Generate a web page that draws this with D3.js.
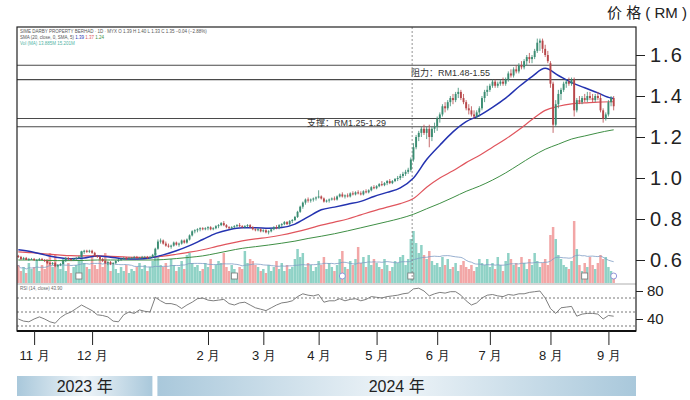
<!DOCTYPE html>
<html>
<head>
<meta charset="utf-8">
<script src="https://cdn.jsdelivr.net/npm/d3@7"></script>
<style>
  html, body { margin: 0; padding: 0; background: #fff; }
  svg { display: block; font-family: 'Liberation Sans', 'Noto Sans CJK SC', sans-serif; }
</style>
</head>
<body>
<div id="chart"></div>
<script>
// ── DATA ─────────────────────────────────────────────────────
// trading window (weekdays only)
const firstDay = '2023-10-24'
const lastDay = '2024-09-04'

const monthTicks = [
  { month: '2023-11', label: '11 月' },
  { month: '2023-12', label: '12 月' },
  { month: '2024-02', label: '2 月' },
  { month: '2024-03', label: '3 月' },
  { month: '2024-04', label: '4 月' },
  { month: '2024-05', label: '5 月' },
  { month: '2024-06', label: '6 月' },
  { month: '2024-07', label: '7 月' },
  { month: '2024-08', label: '8 月' },
  { month: '2024-09', label: '9 月' }
]
const yearLabels = ['2023 年', '2024 年']
const priceTicks = [0.6, 0.8, 1.0, 1.2, 1.4, 1.6]
const rsiTicks = [80, 40]
const rsiGuides = [70, 50, 30]
const resistance = [1.48, 1.55]
const support = [1.25, 1.29]

// daily candles [open, high, low, close] in RM
const candles = [
  // Oct 2023
  [0.620,0.625,0.610,0.615],[0.615,0.620,0.600,0.605],[0.605,0.615,0.600,0.610],[0.610,0.615,0.600,0.600],[0.600,0.610,0.595,0.605],[0.605,0.610,0.600,0.605],
  // Nov
  [0.605,0.610,0.595,0.600],[0.600,0.605,0.595,0.600],[0.600,0.610,0.595,0.605],[0.605,0.610,0.600,0.600],[0.600,0.605,0.590,0.595],[0.595,0.600,0.580,0.585],
  [0.585,0.590,0.575,0.580],[0.580,0.590,0.575,0.585],[0.585,0.590,0.565,0.570],[0.570,0.580,0.565,0.575],[0.575,0.585,0.570,0.580],[0.580,0.600,0.580,0.595],
  [0.595,0.615,0.590,0.610],[0.610,0.615,0.600,0.605],[0.605,0.610,0.595,0.600],[0.600,0.610,0.595,0.605],[0.605,0.615,0.600,0.610],[0.610,0.620,0.605,0.615],
  [0.615,0.645,0.615,0.640],[0.640,0.650,0.630,0.645],[0.645,0.650,0.635,0.640],[0.640,0.650,0.635,0.645],
  // Dec
  [0.645,0.650,0.630,0.635],[0.635,0.640,0.615,0.620],[0.620,0.625,0.610,0.615],[0.615,0.620,0.600,0.605],[0.605,0.610,0.590,0.595],[0.595,0.600,0.580,0.585],
  [0.585,0.595,0.575,0.590],[0.590,0.595,0.575,0.580],[0.580,0.590,0.575,0.585],[0.585,0.600,0.580,0.595],[0.595,0.605,0.590,0.600],[0.600,0.610,0.595,0.605],
  [0.605,0.615,0.600,0.610],[0.610,0.615,0.600,0.605],[0.605,0.615,0.600,0.610],[0.610,0.615,0.605,0.610],[0.610,0.620,0.605,0.615],[0.615,0.620,0.605,0.610],
  [0.610,0.615,0.605,0.610],[0.610,0.620,0.605,0.615],[0.615,0.620,0.610,0.615],
  // Jan 2024
  [0.615,0.620,0.605,0.610],[0.610,0.620,0.605,0.615],[0.615,0.630,0.610,0.625],[0.625,0.660,0.620,0.655],[0.655,0.700,0.650,0.690],[0.690,0.705,0.680,0.695],
  [0.695,0.700,0.675,0.680],[0.680,0.690,0.665,0.670],[0.670,0.680,0.660,0.665],[0.665,0.675,0.655,0.670],[0.670,0.690,0.665,0.685],[0.685,0.690,0.670,0.675],
  [0.675,0.685,0.665,0.680],[0.680,0.700,0.675,0.695],[0.695,0.700,0.680,0.685],[0.685,0.705,0.680,0.700],[0.700,0.725,0.695,0.720],[0.720,0.745,0.715,0.740],
  [0.740,0.750,0.730,0.745],[0.745,0.755,0.735,0.750],[0.750,0.760,0.740,0.755],[0.755,0.760,0.745,0.750],[0.750,0.760,0.745,0.755],
  // Feb
  [0.755,0.765,0.745,0.760],[0.760,0.765,0.745,0.750],[0.750,0.760,0.745,0.755],[0.755,0.770,0.750,0.765],[0.765,0.775,0.755,0.770],[0.770,0.785,0.765,0.780],
  [0.780,0.790,0.765,0.770],[0.770,0.775,0.755,0.760],[0.760,0.765,0.750,0.755],[0.755,0.765,0.750,0.760],[0.760,0.770,0.755,0.765],[0.765,0.775,0.760,0.770],
  [0.770,0.780,0.760,0.765],[0.765,0.770,0.755,0.760],[0.760,0.770,0.755,0.765],[0.765,0.775,0.760,0.770],[0.770,0.775,0.755,0.760],[0.760,0.765,0.745,0.750],
  [0.750,0.755,0.740,0.745],[0.745,0.755,0.740,0.750],[0.750,0.755,0.735,0.740],
  // Mar
  [0.740,0.750,0.735,0.745],[0.745,0.750,0.730,0.735],[0.735,0.745,0.725,0.740],[0.740,0.755,0.735,0.750],[0.750,0.765,0.745,0.760],[0.760,0.770,0.750,0.755],
  [0.755,0.775,0.750,0.770],[0.770,0.780,0.760,0.775],[0.775,0.790,0.770,0.785],[0.785,0.790,0.770,0.775],[0.775,0.795,0.770,0.790],[0.790,0.800,0.780,0.795],
  [0.795,0.815,0.790,0.810],[0.810,0.840,0.805,0.835],[0.835,0.865,0.830,0.860],[0.860,0.885,0.850,0.880],[0.880,0.900,0.870,0.895],[0.895,0.905,0.880,0.890],
  [0.890,0.900,0.880,0.895],[0.895,0.905,0.885,0.900],[0.900,0.910,0.890,0.905],
  // Apr
  [0.905,0.940,0.900,0.910],[0.910,0.915,0.895,0.900],[0.900,0.905,0.880,0.885],[0.885,0.895,0.880,0.890],[0.890,0.900,0.880,0.895],[0.895,0.905,0.890,0.900],
  [0.900,0.910,0.890,0.895],[0.895,0.915,0.890,0.910],[0.910,0.925,0.905,0.920],[0.920,0.930,0.905,0.910],[0.910,0.920,0.900,0.915],[0.915,0.925,0.905,0.910],
  [0.910,0.930,0.905,0.925],[0.925,0.935,0.915,0.920],[0.920,0.935,0.915,0.930],[0.930,0.940,0.920,0.925],[0.925,0.935,0.915,0.920],[0.920,0.940,0.915,0.935],
  [0.935,0.945,0.925,0.930],[0.930,0.945,0.925,0.940],[0.940,0.960,0.935,0.955],[0.955,0.965,0.945,0.950],
  // May
  [0.950,0.965,0.945,0.960],[0.960,0.975,0.955,0.970],[0.970,0.985,0.960,0.965],[0.965,0.980,0.960,0.975],[0.975,0.990,0.965,0.985],[0.985,0.995,0.970,0.975],
  [0.975,0.990,0.970,0.985],[0.985,1.000,0.980,0.995],[0.995,1.010,0.985,1.000],[1.000,1.020,0.990,1.010],[1.010,1.030,1.000,1.020],[1.020,1.040,1.010,1.030],
  [1.030,1.050,1.020,1.040],[1.040,1.100,1.030,1.090],[1.090,1.170,1.080,1.150],[1.150,1.210,1.140,1.200],[1.200,1.230,1.180,1.220],[1.220,1.250,1.200,1.240],
  [1.240,1.260,1.210,1.220],[1.220,1.250,1.190,1.240],[1.240,1.260,1.150,1.200],[1.200,1.250,1.180,1.240],[1.240,1.270,1.220,1.250],
  // Jun
  [1.250,1.300,1.230,1.290],[1.290,1.320,1.270,1.310],[1.310,1.360,1.300,1.350],[1.350,1.370,1.320,1.340],[1.340,1.380,1.330,1.370],[1.370,1.400,1.350,1.390],
  [1.390,1.410,1.360,1.380],[1.380,1.420,1.370,1.410],[1.410,1.440,1.390,1.420],[1.420,1.430,1.380,1.390],[1.390,1.410,1.360,1.370],[1.370,1.380,1.330,1.340],
  [1.340,1.360,1.310,1.330],[1.330,1.350,1.300,1.310],[1.310,1.330,1.290,1.300],[1.300,1.330,1.290,1.320],[1.320,1.350,1.300,1.340],[1.340,1.400,1.330,1.390],
  [1.390,1.430,1.370,1.420],[1.420,1.450,1.400,1.430],
  // Jul
  [1.430,1.460,1.420,1.450],[1.450,1.480,1.440,1.470],[1.470,1.480,1.440,1.450],[1.450,1.470,1.440,1.460],[1.460,1.480,1.450,1.470],[1.470,1.490,1.450,1.460],
  [1.460,1.490,1.450,1.480],[1.480,1.520,1.470,1.510],[1.510,1.530,1.490,1.500],[1.500,1.540,1.490,1.530],[1.530,1.550,1.510,1.520],[1.520,1.560,1.510,1.550],
  [1.550,1.570,1.530,1.540],[1.540,1.580,1.530,1.570],[1.570,1.600,1.550,1.590],[1.590,1.610,1.560,1.580],[1.580,1.600,1.560,1.590],[1.590,1.630,1.580,1.620],
  [1.620,1.680,1.610,1.660],[1.660,1.680,1.620,1.670],[1.670,1.680,1.610,1.630],[1.630,1.650,1.590,1.600],[1.600,1.620,1.560,1.570],
  // Aug
  [1.560,1.570,1.440,1.460],[1.460,1.470,1.220,1.260],[1.260,1.380,1.250,1.360],[1.360,1.430,1.340,1.410],[1.410,1.440,1.380,1.430],[1.430,1.470,1.420,1.460],
  [1.460,1.480,1.440,1.470],[1.470,1.490,1.450,1.460],[1.460,1.490,1.450,1.480],[1.480,1.490,1.300,1.330],[1.330,1.390,1.320,1.380],[1.380,1.400,1.360,1.370],
  [1.370,1.400,1.360,1.390],[1.390,1.410,1.370,1.380],[1.380,1.420,1.370,1.400],[1.400,1.420,1.380,1.390],[1.390,1.410,1.370,1.380],[1.380,1.410,1.370,1.400],
  [1.400,1.420,1.380,1.390],[1.390,1.410,1.320,1.330],[1.330,1.340,1.270,1.290],[1.290,1.320,1.280,1.310],
  // Sep
  [1.310,1.380,1.300,1.370],[1.370,1.400,1.350,1.390],[1.390,1.400,1.330,1.350]
]

// daily volume, million shares
const volumes = [
  9,6,8,5,10,7,
  8,11,6,9,7,12, 15,8,14,9,7,12, 6,10,5,8,9,11, 16,10,8,7,
  13,9,7,12,8,15, 10,6,9,7,5,8, 6,9,5,7,6,8, 10,7,9,
  6,8,11,15,13,9, 8,10,7,12,9,6, 8,11,7,14,15,10, 8,9,6,7,10,
  8,12,7,9,11,10, 15,8,6,9,7,5, 8,7,16,10,12,11, 9,8,6,
  7,5,9,6,8,11, 7,10,6,9,7,8, 12,17,13,15,8,10, 9,6,8,
  11,9,13,7,10,8, 6,9,12,16,8,7, 11,9,12,18,10,13, 8,14,9,12,
  10,8,7,12,9,6, 8,11,10,13,14,9, 12,22,26,20,15,19, 14,12,16,11,9,
  10,8,13,9,12,7, 8,10,6,9,11,8, 7,9,6,8,12,10, 9,12,
  8,10,7,13,9,6, 11,15,12,9,10,8, 13,10,7,12,9,15, 11,8,10,12,9,
  24,28,22,14,12,9, 8,7,11,31,17,9, 6,10,8,13,9,7, 10,14,12,13,
  8,6,5
]

// moving averages read every 5 sessions (plus the last one)
const maStep = 5
const maShort = [0.650,0.640,0.625,0.612,0.606,0.610,0.620,0.614,0.606,0.605,0.610,0.625,0.645,0.670,0.700,0.730,0.748,0.757,0.757,0.755,
  0.758,0.775,0.810,0.845,0.858,0.872,0.886,0.910,0.930,0.952,1.000,1.090,1.160,1.225,1.275,1.305,1.345,1.390,1.445,1.495,1.535,1.500,1.465,1.440,1.415,1.390,1.388]
const maMid = [0.640,0.636,0.630,0.625,0.621,0.620,0.620,0.618,0.615,0.613,0.613,0.619,0.628,0.638,0.650,0.665,0.680,0.693,0.703,0.711,
  0.722,0.736,0.752,0.770,0.785,0.800,0.820,0.840,0.858,0.875,0.900,0.955,1.000,1.035,1.075,1.110,1.150,1.190,1.235,1.285,1.330,1.350,1.362,1.366,1.370,1.372,1.372]
const maLong = [0.600,0.600,0.598,0.597,0.597,0.598,0.600,0.600,0.600,0.600,0.600,0.602,0.607,0.613,0.620,0.632,0.645,0.657,0.665,0.673,
  0.682,0.692,0.705,0.716,0.728,0.742,0.757,0.772,0.787,0.803,0.823,0.850,0.876,0.905,0.935,0.960,0.990,1.025,1.065,1.105,1.140,1.165,1.190,1.205,1.220,1.233,1.235]

// RSI(14), read every 2 sessions
const rsiStep = 2
const rsi = [40,37,36,40,43,40,36,34,42,47,50,55,60,56,52,46,45,43,37,36,46,50,48,53,51,50,71,66,62,62,
  60,55,60,64,69,70,67,66,67,68,62,60,63,64,60,56,54,52,56,60,63,64,66,72,76,74,73,75,64,66,
  66,69,66,68,69,66,68,72,71,70,72,73,74,76,77,83,84,80,73,76,78,77,79,79,74,66,60,63,70,74,
  75,73,72,75,74,76,76,78,79,80,70,55,48,56,57,58,44,47,48,48,47,40,45,44]

// chart event markers under the volume bars (session index)
const events = [
  { i: 23, kind: 'square' }, { i: 82, kind: 'square' }, { i: 123, kind: 'circle' },
  { i: 149, kind: 'square' }, { i: 215, kind: 'square' }, { i: 226, kind: 'circle' }
]

// ── SETUP ────────────────────────────────────────────────────
const W = 690, H = 400
const box = { left: 17, right: 636, top: 27, split: 284, bottom: 331 }
const upCol = '#3b8d73', downCol = '#b8474a'
const upVol = '#8fd2c6', downVol = '#f2a6a6'

const days = d3.utcDay.range(new Date(firstDay), d3.utcDay.offset(new Date(lastDay), 1))
  .filter(d => d.getUTCDay() !== 0 && d.getUTCDay() !== 6)
const fmtMonth = d3.utcFormat('%Y-%m')

const bars = candles.map((c, i) => ({
  i, o: c[0], h: c[1], l: c[2], c: c[3], v: volumes[i], up: c[3] >= c[0]
}))

const x = d3.scaleLinear().domain([-0.5, bars.length - 0.5]).range([17, 615])
const y = d3.scaleLinear().domain([0.6, 1.6]).range([260, 55])
const yVol = d3.scaleLinear().domain([0, 30]).range([283, 223])
const yRsi = d3.scaleLinear().domain([40, 80]).range([319, 291])

const svg = d3.select('#chart').append('svg')
  .attr('width', W).attr('height', H)
  .attr('viewBox', `0 0 ${W} ${H}`)

const defs = svg.append('defs')
const grad = defs.append('linearGradient').attr('id', 'yearGrad')
grad.append('stop').attr('offset', '0%').attr('stop-color', '#a9c8db')
grad.append('stop').attr('offset', '50%').attr('stop-color', '#eef4f8')
grad.append('stop').attr('offset', '100%').attr('stop-color', '#a9c8db')

// ── VOLUME ───────────────────────────────────────────────────
svg.append('g').selectAll('rect')
  .data(bars)
  .join('rect')
  .attr('x', d => x(d.i) - 1.25)
  .attr('width', 2.5)
  .attr('y', d => yVol(d.v))
  .attr('height', d => yVol(0) - yVol(d.v))
  .attr('fill', d => d.up ? upVol : downVol)

const volMa = bars.map((d, i) => ({ i, v: d3.mean(volumes.slice(Math.max(0, i - 19), i + 1)) }))
svg.append('path')
  .datum(volMa)
  .attr('fill', 'none')
  .attr('stroke', '#7d9cc4')
  .attr('stroke-width', 0.8)
  .attr('d', d3.line().x(d => x(d.i)).y(d => yVol(d.v)).curve(d3.curveMonotoneX))

const ev = svg.append('g')
events.forEach(e => {
  if (e.kind === 'square') {
    ev.append('rect').attr('x', x(e.i) - 3).attr('y', 273).attr('width', 6).attr('height', 6)
      .attr('fill', '#fff').attr('stroke', '#777').attr('stroke-width', 0.8)
  } else {
    ev.append('circle').attr('cx', x(e.i)).attr('cy', 276).attr('r', 3)
      .attr('fill', '#fff').attr('stroke', '#7a7fd0').attr('stroke-width', 0.8)
  }
})

// ── SUPPORT / RESISTANCE ─────────────────────────────────────
svg.append('g').selectAll('line')
  .data(resistance.concat(support))
  .join('line')
  .attr('x1', box.left).attr('x2', box.right)
  .attr('y1', d => y(d)).attr('y2', d => y(d))
  .attr('stroke', '#4a4a4a').attr('stroke-width', 1.1)

svg.append('text')
  .attr('x', 411).attr('y', (y(resistance[0]) + y(resistance[1])) / 2 + 3.5)
  .attr('font-size', 9).attr('fill', '#333')
  .text(`阻力：RM${resistance[0].toFixed(2)}-${resistance[1].toFixed(2)}`)
svg.append('text')
  .attr('x', 307).attr('y', (y(support[0]) + y(support[1])) / 2 + 3.5)
  .attr('font-size', 9).attr('fill', '#333')
  .text(`支撑：RM${support[0].toFixed(2)}-${support[1].toFixed(2)}`)

// dashed marker line
svg.append('line')
  .attr('x1', x(149.5)).attr('x2', x(149.5))
  .attr('y1', box.top).attr('y2', 283)
  .attr('stroke', '#777').attr('stroke-width', 0.8).attr('stroke-dasharray', '2,2')

// ── MOVING AVERAGES ──────────────────────────────────────────
const maIndex = k => Math.min(k * maStep, bars.length - 1)
const maLine = d3.line().x((d, k) => x(maIndex(k))).y(d => y(d)).curve(d3.curveMonotoneX)
;[[maLong, '#3f8f45', 1], [maMid, '#e0555d', 1.2], [maShort, '#2433b0', 1.5]].forEach(([arr, col, w]) => {
  svg.append('path').datum(arr)
    .attr('fill', 'none').attr('stroke', col).attr('stroke-width', w)
    .attr('d', maLine)
})

// ── CANDLES ──────────────────────────────────────────────────
const cg = svg.append('g')
cg.selectAll('line')
  .data(bars)
  .join('line')
  .attr('x1', d => x(d.i)).attr('x2', d => x(d.i))
  .attr('y1', d => y(d.h)).attr('y2', d => y(d.l))
  .attr('stroke', d => d.up ? upCol : downCol)
  .attr('stroke-width', 0.8)
cg.selectAll('rect')
  .data(bars)
  .join('rect')
  .attr('x', d => x(d.i) - 0.95)
  .attr('width', 1.9)
  .attr('y', d => y(Math.max(d.o, d.c)))
  .attr('height', d => Math.max(0.8, Math.abs(y(d.o) - y(d.c))))
  .attr('fill', d => d.up ? upCol : downCol)

// ── RSI PANEL ────────────────────────────────────────────────
svg.append('line')
  .attr('x1', box.left).attr('x2', box.right)
  .attr('y1', box.split).attr('y2', box.split)
  .attr('stroke', '#999').attr('stroke-width', 0.8)

svg.append('g').selectAll('line')
  .data(rsiGuides)
  .join('line')
  .attr('x1', box.left).attr('x2', box.right)
  .attr('y1', d => yRsi(d)).attr('y2', d => yRsi(d))
  .attr('stroke', '#555').attr('stroke-width', 0.8).attr('stroke-dasharray', '2,2')

svg.append('path')
  .datum(rsi)
  .attr('fill', 'none')
  .attr('stroke', '#6f6f6f')
  .attr('stroke-width', 0.9)
  .attr('d', d3.line().x((d, k) => x(Math.min(k * rsiStep, bars.length - 1))).y(d => yRsi(d)))

svg.append('text')
  .attr('x', 20).attr('y', 289.5)
  .attr('font-size', 4.5).attr('fill', '#666')
  .text('RSI (14, close)  43.90')

// ── FRAME ────────────────────────────────────────────────────
svg.append('rect')
  .attr('x', box.left).attr('y', box.top)
  .attr('width', box.right - box.left).attr('height', box.bottom - box.top)
  .attr('fill', 'none').attr('stroke', '#222').attr('stroke-width', 1.2)
svg.append('line')
  .attr('x1', box.left).attr('x2', box.right)
  .attr('y1', box.bottom).attr('y2', box.bottom)
  .attr('stroke', '#111').attr('stroke-width', 2)

// legend text in the corner
const legend = svg.append('g').attr('font-size', 4.5)
legend.append('text').attr('x', 20).attr('y', 33).attr('fill', '#555')
  .text('SIME DARBY PROPERTY BERHAD · 1D · MYX   O 1.39  H 1.40  L 1.33  C 1.35  −0.04 (−2.88%)')
const l2 = legend.append('text').attr('x', 20).attr('y', 39).attr('fill', '#555')
l2.append('tspan').text('SMA (20, close, 0, SMA, 5)  ')
l2.append('tspan').attr('fill', '#2433b0').text('1.39  ')
l2.append('tspan').attr('fill', '#e0555d').text('1.37  ')
l2.append('tspan').attr('fill', '#3f8f45').text('1.24')
legend.append('text').attr('x', 20).attr('y', 45).attr('fill', '#4fb3a5')
  .text('Vol (MA)  13.885M  15.201M')

// ── AXES ─────────────────────────────────────────────────────
const priceAxis = svg.append('g')
  .attr('transform', `translate(${box.right},0)`)
  .call(d3.axisRight(y).tickValues(priceTicks).tickFormat(d3.format('.1f')).tickSize(9).tickPadding(5))
priceAxis.select('.domain').remove()
priceAxis.selectAll('line').attr('stroke', '#222')
priceAxis.selectAll('text')
  .attr('font-size', 20).attr('fill', '#222')
  .style('letter-spacing', '2px')
  .style('font-family', "'Liberation Sans', sans-serif")

const rsiAxis = svg.append('g')
  .attr('transform', `translate(${box.right},0)`)
  .call(d3.axisRight(yRsi).tickValues(rsiTicks).tickSize(7).tickPadding(4))
rsiAxis.select('.domain').remove()
rsiAxis.selectAll('line').attr('stroke', '#222')
rsiAxis.selectAll('text').attr('font-size', 15).attr('fill', '#222')

svg.append('text')
  .attr('x', 687).attr('y', 18)
  .attr('text-anchor', 'end')
  .attr('font-size', 15).attr('fill', '#222')
  .text('价 格 ( RM )')

const tickIdx = monthTicks.map(t => ({ ...t, i: days.findIndex(d => fmtMonth(d) === t.month) }))
const timeAxis = svg.append('g')
  .attr('transform', `translate(0,${box.bottom})`)
  .call(d3.axisBottom(x).tickValues(tickIdx.map(t => t.i))
    .tickFormat((d, k) => tickIdx[k].label).tickSize(14).tickPadding(6))
timeAxis.select('.domain').remove()
timeAxis.selectAll('line').attr('stroke', '#222').attr('stroke-width', 1)
timeAxis.selectAll('text').attr('font-size', 13).attr('fill', '#222')

// year bands, split just after the first session of January
const janIdx = days.findIndex(d => fmtMonth(d) === '2024-01')
const bands = [
  { label: yearLabels[0], x0: box.left, x1: x(janIdx) + 5 },
  { label: yearLabels[1], x0: x(janIdx) + 10, x1: box.right }
]
const yb = svg.append('g')
yb.selectAll('rect').data(bands).join('rect')
  .attr('x', d => d.x0).attr('y', 376)
  .attr('width', d => d.x1 - d.x0).attr('height', 20)
  .attr('fill', 'url(#yearGrad)')
yb.selectAll('text').data(bands).join('text')
  .attr('x', d => (d.x0 + d.x1) / 2).attr('y', 392)
  .attr('text-anchor', 'middle')
  .attr('font-size', 16).attr('fill', '#222')
  .text(d => d.label)
</script>
</body>
</html>
